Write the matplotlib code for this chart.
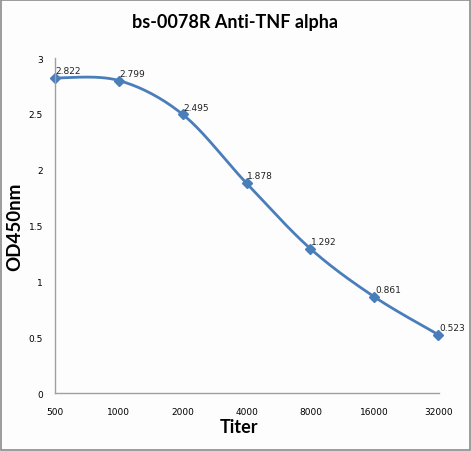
import matplotlib
matplotlib.use("Agg")
import matplotlib.pyplot as plt
import numpy as np

titers = ["500", "1000", "2000", "4000", "8000", "16000", "32000"]
od450 = [2.822, 2.799, 2.495, 1.878, 1.292, 0.861, 0.523]
yticks = [0, 0.5, 1, 1.5, 2, 2.5, 3]

plt.rcParams['font.family'] = ['Lato', 'DejaVu Sans']


def smooth(x, y, n=30):
    # catmull-rom style smoothing, like Excel's "smoothed line"
    x = np.asarray(x, float)
    y = np.asarray(y, float)
    px = np.concatenate([[x[0]], x, [x[-1]]])
    py = np.concatenate([[y[0]], y, [y[-1]]])
    xs, ys = [], []
    t = np.linspace(0, 1, n)
    for i in range(1, len(px) - 2):
        p0, p1, p2, p3 = (np.array([px[j], py[j]]) for j in range(i - 1, i + 3))
        c1 = p1 + (p2 - p0) / 6
        c2 = p2 - (p3 - p1) / 6
        pts = ((1 - t) ** 3)[:, None] * p1 + (3 * (1 - t) ** 2 * t)[:, None] * c1 \
            + (3 * (1 - t) * t ** 2)[:, None] * c2 + (t ** 3)[:, None] * p2
        xs.extend(pts[:, 0])
        ys.extend(pts[:, 1])
    return np.array(xs), np.array(ys)


fig = plt.figure(figsize=(4.71, 4.52), dpi=100, facecolor='#fdfdfd')
ax = fig.add_axes([0.1168, 0.1283, 0.815, 0.741])
ax.set_facecolor('#fdfdfd')

xpos = np.arange(len(titers))
sx, sy = smooth(xpos, od450)
blue = '#4a7ebb'
ax.plot(sx, sy, color=blue, lw=2, clip_on=False)
ax.plot(xpos, od450, linestyle='none', marker='D', ms=5, color=blue, clip_on=False)
for x, y in zip(xpos, od450):
    ax.annotate(f"{y:.3f}", (x, y), xytext=(0.5, 3.5), textcoords='offset points',
                fontsize=6.5, family='DejaVu Sans', color='#222222')

ax.set_xlim(0, len(titers) - 1 + 0.01)
ax.set_ylim(0, 3)
ax.set_xticks(xpos)
ax.set_xticklabels(titers)
ax.set_yticks(yticks)
ax.set_yticklabels([f"{v:g}" for v in yticks])
ax.tick_params(length=0, labelsize=6.5, pad=8.6)
ax.tick_params(axis='x', pad=10)
for lab in ax.get_xticklabels() + ax.get_yticklabels():
    lab.set_family('DejaVu Sans')
for s in ['top', 'right']:
    ax.spines[s].set_visible(False)
for s in ['left', 'bottom']:
    ax.spines[s].set_color('#a0a0a0')
    ax.spines[s].set_linewidth(1)

fig.text(0.499, 0.951, "bs-0078R Anti-TNF alpha", fontsize=13, fontweight='bold',
         ha='center', va='center')
ax.set_xlabel("Titer", fontsize=13, fontweight='bold', labelpad=3)
ax.xaxis.set_label_coords(0.479, -0.075)
ax.set_ylabel("OD450nm", fontsize=13.5, fontweight='bold')
ax.yaxis.set_label_coords(-0.083, 0.5)

border = plt.Rectangle((0.003, 0.003), 0.994, 0.994, transform=fig.transFigure,
                       fill=False, edgecolor='#8c8c8c', lw=1.2)
fig.patches.append(border)

fig.savefig("out.png", dpi=100, facecolor=fig.get_facecolor())
